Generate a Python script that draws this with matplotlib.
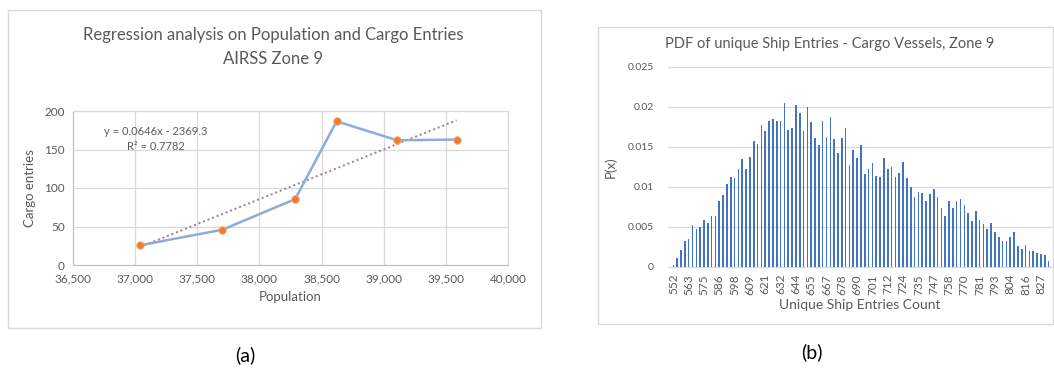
import matplotlib
matplotlib.use("Agg")
import matplotlib.pyplot as plt
from matplotlib.patches import Rectangle
import numpy as np

plt.rcParams['font.family'] = ['Lato', 'DejaVu Sans']

# (a) population vs cargo entries
population = [37038, 37701, 38287, 38621, 39107, 39586]
cargo_entries = [25.5, 45.8, 85.5, 186.6, 162.0, 162.9]
trend_slope = 0.0646
trend_intercept = -2369.3
r_squared = 0.7782

# (b) PDF of unique ship entries, one value per bin
bin_labels = ['552', '563', '575', '586', '598', '609', '621', '632', '644',
              '655', '667', '678', '690', '701', '712', '724', '735', '747',
              '758', '770', '781', '793', '804', '816', '827']
pdf_values = [
    0.0003, 0.0011, 0.0021, 0.0033, 0.0035, 0.0053, 0.0048, 0.0050, 0.0059,
    0.0055, 0.0064, 0.0064, 0.0083, 0.0090, 0.0104, 0.0113, 0.0111, 0.0123,
    0.0135, 0.0122, 0.0137, 0.0157, 0.0154, 0.0178, 0.0170, 0.0183, 0.0185,
    0.0183, 0.0183, 0.0205, 0.0171, 0.0174, 0.0203, 0.0192, 0.0170, 0.0200,
    0.0181, 0.0161, 0.0152, 0.0183, 0.0163, 0.0188, 0.0160, 0.0143, 0.0161,
    0.0174, 0.0128, 0.0146, 0.0136, 0.0153, 0.0116, 0.0122, 0.0130, 0.0114,
    0.0113, 0.0136, 0.0123, 0.0125, 0.0112, 0.0117, 0.0131, 0.0111, 0.0100,
    0.0087, 0.0094, 0.0093, 0.0083, 0.0091, 0.0097, 0.0087, 0.0074, 0.0064,
    0.0083, 0.0074, 0.0082, 0.0085, 0.0077, 0.0068, 0.0057, 0.0070, 0.0059,
    0.0054, 0.0048, 0.0055, 0.0044, 0.0038, 0.0033, 0.0033, 0.0037, 0.0044,
    0.0026, 0.0023, 0.0028, 0.0020, 0.0020, 0.0018, 0.0016, 0.0015, 0.0008]
label_step = 4

W, H = 1054, 374
fig = plt.figure(figsize=(W / 100, H / 100), dpi=100)
fig.patch.set_facecolor('white')

text_gray = '#595959'
grid_gray = '#D9D9D9'


def px_axes(x0, y0, x1, y1):
    # pixel box (top-left origin) -> figure axes
    return fig.add_axes([x0 / W, 1 - y1 / H, (x1 - x0) / W, (y1 - y0) / H])


# chart frames
for (x0, y0, x1, y1) in [(8, 10, 541, 328), (598, 27, 1053, 324)]:
    fig.patches.append(Rectangle((x0 / W, 1 - y1 / H), (x1 - x0) / W, (y1 - y0) / H,
                                 transform=fig.transFigure, fill=False,
                                 edgecolor='#D9D9D9', linewidth=1))

# ---- left chart ----
ax1 = px_axes(73, 111, 508, 265)
ax1.plot(population, cargo_entries, color='#8FAADC', linewidth=1.8, zorder=3,
         marker='o', markersize=5.5, markerfacecolor='#ED7D31',
         markeredgecolor='#F4B183', markeredgewidth=0.6)
tx = np.array([population[0], population[-1]])
ax1.plot(tx, trend_slope * tx + trend_intercept, linestyle=(0, (1, 1.5)),
         color='#9C7E92', linewidth=1.4, zorder=2)
ax1.set_xlim(36500, 40000)
ax1.set_ylim(0, 200)
ax1.set_xticks(np.arange(36500, 40001, 500))
ax1.set_yticks(np.arange(0, 201, 50))
ax1.xaxis.set_major_formatter(matplotlib.ticker.FuncFormatter(lambda v, p: f'{int(v):,}'))
ax1.grid(True, color=grid_gray, linewidth=0.9)
ax1.set_axisbelow(True)
for s in ax1.spines.values():
    s.set_color(grid_gray)
ax1.spines['left'].set_color('#BFBFBF')
ax1.spines['bottom'].set_color('#BFBFBF')
ax1.tick_params(length=0, labelsize=8.5, labelcolor=text_gray, pad=6)
ax1.set_xlabel('Population', fontsize=9.5, color=text_gray, labelpad=5)
ax1.set_ylabel('Cargo entries', fontsize=9.5, color=text_gray, labelpad=6)
ax1.text(0.19, 0.9, f'y = {trend_slope}x - {abs(trend_intercept)}\nR² = {r_squared}',
         transform=ax1.transAxes, ha='center', va='top', fontsize=8,
         color=text_gray, linespacing=1.4)
fig.text(273 / W, 1 - 47 / H, 'Regression analysis on Population and Cargo Entries\nAIRSS Zone 9',
         ha='center', va='center', fontsize=12, color=text_gray, linespacing=1.55)

# ---- right chart ----
ax2 = px_axes(668, 67, 1052, 267)
idx = np.arange(len(pdf_values))
ax2.bar(idx, pdf_values, width=0.42, color='#4472C4', zorder=3)
ax2.set_xlim(-1.4, len(pdf_values) - 0.1)
ax2.set_ylim(0, 0.025)
ax2.set_yticks([0, 0.005, 0.01, 0.015, 0.02, 0.025])
ax2.set_yticklabels(['0', '0.005', '0.01', '0.015', '0.02', '0.025'])
ax2.set_xticks(idx[::label_step])
ax2.set_xticklabels(bin_labels, rotation=90)
ax2.grid(True, axis='y', color=grid_gray, linewidth=0.9)
ax2.set_axisbelow(True)
for k in ['top', 'right', 'left']:
    ax2.spines[k].set_visible(False)
ax2.spines['bottom'].set_color(grid_gray)
ax2.tick_params(length=0, labelcolor=text_gray)
ax2.tick_params(axis='y', pad=10, labelsize=7.5)
ax2.tick_params(axis='x', pad=5, labelsize=8.5)
ax2.set_xlabel('Unique Ship Entries Count', fontsize=10, color=text_gray, labelpad=3)
ax2.set_ylabel('P(x)', fontsize=9.5, color=text_gray, labelpad=8)
fig.text(830 / W, 1 - 44 / H, 'PDF of unique Ship Entries - Cargo Vessels, Zone 9',
         ha='center', va='center', fontsize=10.5, color=text_gray)

# panel labels
fig.text(245 / W, 1 - 355 / H, '(a)', ha='center', va='center', fontsize=14, color='#000000')
fig.text(812 / W, 1 - 352 / H, '(b)', ha='center', va='center', fontsize=14, color='#000000')

fig.savefig('out.png', dpi=100)
